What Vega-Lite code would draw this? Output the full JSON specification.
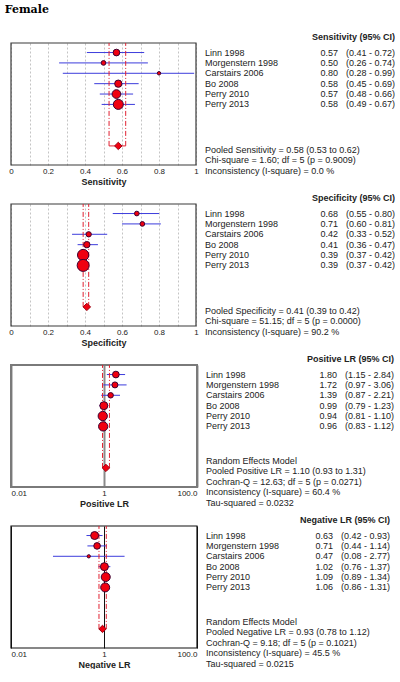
{
  "$schema": "https://vega.github.io/schema/vega-lite/v6.json",
  "title": {"text": "Female", "anchor": "start", "font": "DejaVu Serif", "fontSize": 11, "fontWeight": "bold", "color": "#000000", "offset": 18, "dx": -4},
  "padding": {"left": 4, "top": 4, "right": 0, "bottom": 0},
  "spacing": 8,
  "datasets": {
    "studies": [
      {"measure": "Sensitivity", "study": "Linn 1998", "order": 0, "est": 0.57, "lo": 0.41, "hi": 0.72, "weight": 45},
      {"measure": "Sensitivity", "study": "Morgenstern 1998", "order": 1, "est": 0.50, "lo": 0.26, "hi": 0.74, "weight": 22},
      {"measure": "Sensitivity", "study": "Carstairs 2006", "order": 2, "est": 0.80, "lo": 0.28, "hi": 0.99, "weight": 12},
      {"measure": "Sensitivity", "study": "Bo 2008", "order": 3, "est": 0.58, "lo": 0.45, "hi": 0.69, "weight": 53},
      {"measure": "Sensitivity", "study": "Perry 2010", "order": 4, "est": 0.57, "lo": 0.48, "hi": 0.66, "weight": 76},
      {"measure": "Sensitivity", "study": "Perry 2013", "order": 5, "est": 0.58, "lo": 0.49, "hi": 0.67, "weight": 100},
      {"measure": "Specificity", "study": "Linn 1998", "order": 0, "est": 0.68, "lo": 0.55, "hi": 0.80, "weight": 22},
      {"measure": "Specificity", "study": "Morgenstern 1998", "order": 1, "est": 0.71, "lo": 0.60, "hi": 0.81, "weight": 22},
      {"measure": "Specificity", "study": "Carstairs 2006", "order": 2, "est": 0.42, "lo": 0.33, "hi": 0.52, "weight": 28},
      {"measure": "Specificity", "study": "Bo 2008", "order": 3, "est": 0.41, "lo": 0.36, "hi": 0.47, "weight": 40},
      {"measure": "Specificity", "study": "Perry 2010", "order": 4, "est": 0.39, "lo": 0.37, "hi": 0.42, "weight": 128},
      {"measure": "Specificity", "study": "Perry 2013", "order": 5, "est": 0.39, "lo": 0.37, "hi": 0.42, "weight": 144},
      {"measure": "Positive LR", "study": "Linn 1998", "order": 0, "est": 1.80, "lo": 1.15, "hi": 2.84, "weight": 45},
      {"measure": "Positive LR", "study": "Morgenstern 1998", "order": 1, "est": 1.72, "lo": 0.97, "hi": 3.06, "weight": 36},
      {"measure": "Positive LR", "study": "Carstairs 2006", "order": 2, "est": 1.39, "lo": 0.87, "hi": 2.21, "weight": 30},
      {"measure": "Positive LR", "study": "Bo 2008", "order": 3, "est": 0.99, "lo": 0.79, "hi": 1.23, "weight": 64},
      {"measure": "Positive LR", "study": "Perry 2010", "order": 4, "est": 0.94, "lo": 0.81, "hi": 1.10, "weight": 86},
      {"measure": "Positive LR", "study": "Perry 2013", "order": 5, "est": 0.96, "lo": 0.83, "hi": 1.12, "weight": 86},
      {"measure": "Negative LR", "study": "Linn 1998", "order": 0, "est": 0.63, "lo": 0.42, "hi": 0.93, "weight": 64},
      {"measure": "Negative LR", "study": "Morgenstern 1998", "order": 1, "est": 0.71, "lo": 0.44, "hi": 1.14, "weight": 44},
      {"measure": "Negative LR", "study": "Carstairs 2006", "order": 2, "est": 0.47, "lo": 0.08, "hi": 2.77, "weight": 11},
      {"measure": "Negative LR", "study": "Bo 2008", "order": 3, "est": 1.02, "lo": 0.76, "hi": 1.37, "weight": 64},
      {"measure": "Negative LR", "study": "Perry 2010", "order": 4, "est": 1.09, "lo": 0.89, "hi": 1.34, "weight": 81},
      {"measure": "Negative LR", "study": "Perry 2013", "order": 5, "est": 1.06, "lo": 0.86, "hi": 1.31, "weight": 81}
    ],
    "pooled": [
      {"measure": "Sensitivity", "est": 0.58, "lo": 0.53, "hi": 0.62, "row": 9},
      {"measure": "Specificity", "est": 0.41, "lo": 0.39, "hi": 0.42, "row": 9},
      {"measure": "Positive LR", "est": 1.10, "lo": 0.93, "hi": 1.31, "row": 9},
      {"measure": "Negative LR", "est": 0.93, "lo": 0.78, "hi": 1.12, "row": 9}
    ],
    "headers": [
      {"measure": "Sensitivity", "line": -1, "text": "Sensitivity (95% CI)"},
      {"measure": "Specificity", "line": -1, "text": "Specificity (95% CI)"},
      {"measure": "Positive LR", "line": -1, "text": "Positive LR (95% CI)"},
      {"measure": "Negative LR", "line": -1, "text": "Negative LR (95% CI)"}
    ],
    "notes": [
      {"measure": "Sensitivity", "line": 9, "text": "Pooled Sensitivity = 0.58 (0.53 to 0.62)"},
      {"measure": "Sensitivity", "line": 10, "text": "Chi-square = 1.60; df =  5 (p = 0.9009)"},
      {"measure": "Sensitivity", "line": 11, "text": "Inconsistency (I-square) = 0.0 %"},
      {"measure": "Specificity", "line": 9, "text": "Pooled Specificity = 0.41 (0.39 to 0.42)"},
      {"measure": "Specificity", "line": 10, "text": "Chi-square = 51.15; df =  5 (p = 0.0000)"},
      {"measure": "Specificity", "line": 11, "text": "Inconsistency (I-square) = 90.2 %"},
      {"measure": "Positive LR", "line": 8, "text": "Random Effects Model"},
      {"measure": "Positive LR", "line": 9, "text": "Pooled Positive LR = 1.10 (0.93 to 1.31)"},
      {"measure": "Positive LR", "line": 10, "text": "Cochran-Q = 12.63; df =  5 (p = 0.0271)"},
      {"measure": "Positive LR", "line": 11, "text": "Inconsistency (I-square) = 60.4 %"},
      {"measure": "Positive LR", "line": 12, "text": "Tau-squared = 0.0232"},
      {"measure": "Negative LR", "line": 8, "text": "Random Effects Model"},
      {"measure": "Negative LR", "line": 9, "text": "Pooled Negative LR = 0.93 (0.78 to 1.12)"},
      {"measure": "Negative LR", "line": 10, "text": "Cochran-Q = 9.18; df =  5 (p = 0.1021)"},
      {"measure": "Negative LR", "line": 11, "text": "Inconsistency (I-square) = 45.5 %"},
      {"measure": "Negative LR", "line": 12, "text": "Tau-squared = 0.0215"}
    ]
  },
  "vconcat": [
    {
      "bounds": "flush", "spacing": 9,
      "hconcat": [
        {
          "width": 185, "height": 122,
          "layer": [
            {
              "data": {"name": "pooled"}, "transform": [{"filter": "datum.measure == 'Sensitivity'"}],
              "mark": {"type": "rect", "filled": false, "stroke": "#3a3a3a", "strokeWidth": 1.2},
              "encoding": {"x": {"value": 0}, "x2": {"value": "width"}, "y": {"value": 0}, "y2": {"value": "height"}}
            },
            {
              "data": {"name": "studies"}, "transform": [{"filter": "datum.measure == 'Sensitivity'"}],
              "mark": {"type": "rule", "color": "#3c3cdc", "strokeWidth": 1},
              "encoding": {
                "x": {"field": "lo", "type": "quantitative", "scale": {"domain": [0, 1], "nice": false, "zero": false},
                  "axis": {"values": [0, 0.1, 0.2, 0.3, 0.4, 0.5, 0.6, 0.7, 0.8, 0.9, 1], "format": "~g", "labelExpr": "round(datum.value * 10) % 2 == 0 ? datum.label : ''", "grid": true, "gridColor": "#c4c4c4", "gridDash": [2, 2], "domain": false, "ticks": false, "labelPadding": 2, "labelFontSize": 8, "labelColor": "#222222", "labelOverlap": false, "labelFlush": false, "title": "Sensitivity", "titleFontSize": 9, "titleFontWeight": "bold", "titleColor": "#222222", "titlePadding": 2}},
                "x2": {"field": "hi"},
                "y": {"field": "order", "type": "quantitative", "scale": {"domain": [-0.92, 10.84], "reverse": true, "nice": false, "zero": false}, "axis": null}
              }
            },
            {
              "data": {"name": "pooled"}, "transform": [{"filter": "datum.measure == 'Sensitivity'"}],
              "mark": {"type": "rule", "color": "#e02030", "strokeWidth": 1, "strokeDash": [5, 2, 1, 2]},
              "encoding": {
                "x": {"field": "lo", "type": "quantitative",
                  "axis": {"values": [0, 0.1, 0.2, 0.3, 0.4, 0.5, 0.6, 0.7, 0.8, 0.9, 1], "format": "~g", "labelExpr": "round(datum.value * 10) % 2 == 0 ? datum.label : ''", "grid": true, "gridColor": "#c4c4c4", "gridDash": [2, 2], "domain": false, "ticks": false, "labelPadding": 2, "labelFontSize": 8, "labelColor": "#222222", "labelOverlap": false, "labelFlush": false, "title": "Sensitivity", "titleFontSize": 9, "titleFontWeight": "bold", "titleColor": "#222222", "titlePadding": 2}},
                "y": {"field": "row", "type": "quantitative", "axis": null},
                "y2": {"value": 0}
              }
            },
            {
              "data": {"name": "pooled"}, "transform": [{"filter": "datum.measure == 'Sensitivity'"}],
              "mark": {"type": "rule", "color": "#e02030", "strokeWidth": 1, "strokeDash": [5, 2, 1, 2]},
              "encoding": {
                "x": {"field": "hi", "type": "quantitative",
                  "axis": {"values": [0, 0.1, 0.2, 0.3, 0.4, 0.5, 0.6, 0.7, 0.8, 0.9, 1], "format": "~g", "labelExpr": "round(datum.value * 10) % 2 == 0 ? datum.label : ''", "grid": true, "gridColor": "#c4c4c4", "gridDash": [2, 2], "domain": false, "ticks": false, "labelPadding": 2, "labelFontSize": 8, "labelColor": "#222222", "labelOverlap": false, "labelFlush": false, "title": "Sensitivity", "titleFontSize": 9, "titleFontWeight": "bold", "titleColor": "#222222", "titlePadding": 2}},
                "y": {"field": "row", "type": "quantitative", "axis": null},
                "y2": {"value": 0}
              }
            },
            {
              "data": {"name": "pooled"}, "transform": [{"filter": "datum.measure == 'Sensitivity'"}],
              "mark": {"type": "rule", "color": "#e02030", "strokeWidth": 1},
              "encoding": {
                "x": {"field": "lo", "type": "quantitative",
                  "axis": {"values": [0, 0.1, 0.2, 0.3, 0.4, 0.5, 0.6, 0.7, 0.8, 0.9, 1], "format": "~g", "labelExpr": "round(datum.value * 10) % 2 == 0 ? datum.label : ''", "grid": true, "gridColor": "#c4c4c4", "gridDash": [2, 2], "domain": false, "ticks": false, "labelPadding": 2, "labelFontSize": 8, "labelColor": "#222222", "labelOverlap": false, "labelFlush": false, "title": "Sensitivity", "titleFontSize": 9, "titleFontWeight": "bold", "titleColor": "#222222", "titlePadding": 2}},
                "x2": {"field": "hi"},
                "y": {"field": "row", "type": "quantitative", "axis": null}
              }
            },
            {
              "data": {"name": "studies"}, "transform": [{"filter": "datum.measure == 'Sensitivity'"}],
              "mark": {"type": "point", "shape": "circle", "filled": true, "fill": "#f00010", "stroke": "#3d0030", "strokeWidth": 1, "opacity": 1},
              "encoding": {
                "x": {"field": "est", "type": "quantitative",
                  "axis": {"values": [0, 0.1, 0.2, 0.3, 0.4, 0.5, 0.6, 0.7, 0.8, 0.9, 1], "format": "~g", "labelExpr": "round(datum.value * 10) % 2 == 0 ? datum.label : ''", "grid": true, "gridColor": "#c4c4c4", "gridDash": [2, 2], "domain": false, "ticks": false, "labelPadding": 2, "labelFontSize": 8, "labelColor": "#222222", "labelOverlap": false, "labelFlush": false, "title": "Sensitivity", "titleFontSize": 9, "titleFontWeight": "bold", "titleColor": "#222222", "titlePadding": 2}},
                "y": {"field": "order", "type": "quantitative", "axis": null},
                "size": {"field": "weight", "type": "quantitative", "scale": {"type": "linear", "domain": [0, 150], "range": [0, 150]}, "legend": null}
              }
            },
            {
              "data": {"name": "pooled"}, "transform": [{"filter": "datum.measure == 'Sensitivity'"}],
              "mark": {"type": "point", "shape": "diamond", "filled": true, "fill": "#f00010", "stroke": "#9a0010", "strokeWidth": 1, "size": 55, "opacity": 1},
              "encoding": {
                "x": {"field": "est", "type": "quantitative",
                  "axis": {"values": [0, 0.1, 0.2, 0.3, 0.4, 0.5, 0.6, 0.7, 0.8, 0.9, 1], "format": "~g", "labelExpr": "round(datum.value * 10) % 2 == 0 ? datum.label : ''", "grid": true, "gridColor": "#c4c4c4", "gridDash": [2, 2], "domain": false, "ticks": false, "labelPadding": 2, "labelFontSize": 8, "labelColor": "#222222", "labelOverlap": false, "labelFlush": false, "title": "Sensitivity", "titleFontSize": 9, "titleFontWeight": "bold", "titleColor": "#222222", "titlePadding": 2}},
                "y": {"field": "row", "type": "quantitative", "axis": null}
              }
            }
          ]
        },
        {
          "width": 100, "height": 122,
          "layer": [
            {
              "data": {"name": "studies"}, "transform": [{"filter": "datum.measure == 'Sensitivity'"}],
              "mark": {"type": "text", "align": "left", "baseline": "middle", "fontSize": 9, "color": "#222222"},
              "encoding": {
                "x": {"value": 0},
                "y": {"field": "order", "type": "quantitative", "scale": {"domain": [-0.92, 10.84], "reverse": true, "nice": false, "zero": false}, "axis": null},
                "text": {"field": "study", "type": "nominal"}
              }
            },
            {
              "data": {"name": "notes"}, "transform": [{"filter": "datum.measure == 'Sensitivity'"}],
              "mark": {"type": "text", "align": "left", "baseline": "middle", "fontSize": 9, "color": "#222222", "dy": 4},
              "encoding": {
                "x": {"value": 0},
                "y": {"field": "line", "type": "quantitative", "axis": null},
                "text": {"field": "text", "type": "nominal"}
              }
            }
          ]
        },
        {
          "width": 24, "height": 122,
          "data": {"name": "studies"}, "transform": [{"filter": "datum.measure == 'Sensitivity'"}],
          "mark": {"type": "text", "align": "right", "baseline": "middle", "fontSize": 9, "color": "#222222"},
          "encoding": {
            "x": {"value": "width"},
            "y": {"field": "order", "type": "quantitative", "scale": {"domain": [-0.92, 10.84], "reverse": true, "nice": false, "zero": false}, "axis": null},
            "text": {"field": "est", "type": "quantitative", "format": ".2f"}
          }
        },
        {
          "width": 48, "height": 122,
          "layer": [
            {
              "data": {"name": "studies"}, "transform": [{"filter": "datum.measure == 'Sensitivity'"}, {"calculate": "'(' + format(datum.lo, '.2f') + ' - ' + format(datum.hi, '.2f') + ')'", "as": "ci"}],
              "mark": {"type": "text", "align": "right", "baseline": "middle", "fontSize": 9, "color": "#222222"},
              "encoding": {
                "x": {"value": "width"},
                "y": {"field": "order", "type": "quantitative", "scale": {"domain": [-0.92, 10.84], "reverse": true, "nice": false, "zero": false}, "axis": null},
                "text": {"field": "ci", "type": "nominal"}
              }
            },
            {
              "data": {"name": "headers"}, "transform": [{"filter": "datum.measure == 'Sensitivity'"}],
              "mark": {"type": "text", "align": "right", "baseline": "middle", "fontSize": 9, "fontWeight": "bold", "color": "#222222", "dy": -5},
              "encoding": {
                "x": {"value": "width"},
                "y": {"field": "line", "type": "quantitative", "axis": null},
                "text": {"field": "text", "type": "nominal"}
              }
            }
          ]
        }
      ]
    },
    {
      "bounds": "flush", "spacing": 9,
      "hconcat": [
        {
          "width": 185, "height": 122,
          "layer": [
            {
              "data": {"name": "pooled"}, "transform": [{"filter": "datum.measure == 'Specificity'"}],
              "mark": {"type": "rect", "filled": false, "stroke": "#3a3a3a", "strokeWidth": 1.2},
              "encoding": {"x": {"value": 0}, "x2": {"value": "width"}, "y": {"value": 0}, "y2": {"value": "height"}}
            },
            {
              "data": {"name": "studies"}, "transform": [{"filter": "datum.measure == 'Specificity'"}],
              "mark": {"type": "rule", "color": "#3c3cdc", "strokeWidth": 1},
              "encoding": {
                "x": {"field": "lo", "type": "quantitative", "scale": {"domain": [0, 1], "nice": false, "zero": false},
                  "axis": {"values": [0, 0.1, 0.2, 0.3, 0.4, 0.5, 0.6, 0.7, 0.8, 0.9, 1], "format": "~g", "labelExpr": "round(datum.value * 10) % 2 == 0 ? datum.label : ''", "grid": true, "gridColor": "#c4c4c4", "gridDash": [2, 2], "domain": false, "ticks": false, "labelPadding": 2, "labelFontSize": 8, "labelColor": "#222222", "labelOverlap": false, "labelFlush": false, "title": "Specificity", "titleFontSize": 9, "titleFontWeight": "bold", "titleColor": "#222222", "titlePadding": 2}},
                "x2": {"field": "hi"},
                "y": {"field": "order", "type": "quantitative", "scale": {"domain": [-0.92, 10.84], "reverse": true, "nice": false, "zero": false}, "axis": null}
              }
            },
            {
              "data": {"name": "pooled"}, "transform": [{"filter": "datum.measure == 'Specificity'"}],
              "mark": {"type": "rule", "color": "#e02030", "strokeWidth": 1, "strokeDash": [5, 2, 1, 2]},
              "encoding": {
                "x": {"field": "lo", "type": "quantitative",
                  "axis": {"values": [0, 0.1, 0.2, 0.3, 0.4, 0.5, 0.6, 0.7, 0.8, 0.9, 1], "format": "~g", "labelExpr": "round(datum.value * 10) % 2 == 0 ? datum.label : ''", "grid": true, "gridColor": "#c4c4c4", "gridDash": [2, 2], "domain": false, "ticks": false, "labelPadding": 2, "labelFontSize": 8, "labelColor": "#222222", "labelOverlap": false, "labelFlush": false, "title": "Specificity", "titleFontSize": 9, "titleFontWeight": "bold", "titleColor": "#222222", "titlePadding": 2}},
                "y": {"field": "row", "type": "quantitative", "axis": null},
                "y2": {"value": 0}
              }
            },
            {
              "data": {"name": "pooled"}, "transform": [{"filter": "datum.measure == 'Specificity'"}],
              "mark": {"type": "rule", "color": "#e02030", "strokeWidth": 1, "strokeDash": [5, 2, 1, 2]},
              "encoding": {
                "x": {"field": "hi", "type": "quantitative",
                  "axis": {"values": [0, 0.1, 0.2, 0.3, 0.4, 0.5, 0.6, 0.7, 0.8, 0.9, 1], "format": "~g", "labelExpr": "round(datum.value * 10) % 2 == 0 ? datum.label : ''", "grid": true, "gridColor": "#c4c4c4", "gridDash": [2, 2], "domain": false, "ticks": false, "labelPadding": 2, "labelFontSize": 8, "labelColor": "#222222", "labelOverlap": false, "labelFlush": false, "title": "Specificity", "titleFontSize": 9, "titleFontWeight": "bold", "titleColor": "#222222", "titlePadding": 2}},
                "y": {"field": "row", "type": "quantitative", "axis": null},
                "y2": {"value": 0}
              }
            },
            {
              "data": {"name": "pooled"}, "transform": [{"filter": "datum.measure == 'Specificity'"}],
              "mark": {"type": "rule", "color": "#e02030", "strokeWidth": 1},
              "encoding": {
                "x": {"field": "lo", "type": "quantitative",
                  "axis": {"values": [0, 0.1, 0.2, 0.3, 0.4, 0.5, 0.6, 0.7, 0.8, 0.9, 1], "format": "~g", "labelExpr": "round(datum.value * 10) % 2 == 0 ? datum.label : ''", "grid": true, "gridColor": "#c4c4c4", "gridDash": [2, 2], "domain": false, "ticks": false, "labelPadding": 2, "labelFontSize": 8, "labelColor": "#222222", "labelOverlap": false, "labelFlush": false, "title": "Specificity", "titleFontSize": 9, "titleFontWeight": "bold", "titleColor": "#222222", "titlePadding": 2}},
                "x2": {"field": "hi"},
                "y": {"field": "row", "type": "quantitative", "axis": null}
              }
            },
            {
              "data": {"name": "studies"}, "transform": [{"filter": "datum.measure == 'Specificity'"}],
              "mark": {"type": "point", "shape": "circle", "filled": true, "fill": "#f00010", "stroke": "#3d0030", "strokeWidth": 1, "opacity": 1},
              "encoding": {
                "x": {"field": "est", "type": "quantitative",
                  "axis": {"values": [0, 0.1, 0.2, 0.3, 0.4, 0.5, 0.6, 0.7, 0.8, 0.9, 1], "format": "~g", "labelExpr": "round(datum.value * 10) % 2 == 0 ? datum.label : ''", "grid": true, "gridColor": "#c4c4c4", "gridDash": [2, 2], "domain": false, "ticks": false, "labelPadding": 2, "labelFontSize": 8, "labelColor": "#222222", "labelOverlap": false, "labelFlush": false, "title": "Specificity", "titleFontSize": 9, "titleFontWeight": "bold", "titleColor": "#222222", "titlePadding": 2}},
                "y": {"field": "order", "type": "quantitative", "axis": null},
                "size": {"field": "weight", "type": "quantitative", "scale": {"type": "linear", "domain": [0, 150], "range": [0, 150]}, "legend": null}
              }
            },
            {
              "data": {"name": "pooled"}, "transform": [{"filter": "datum.measure == 'Specificity'"}],
              "mark": {"type": "point", "shape": "diamond", "filled": true, "fill": "#f00010", "stroke": "#9a0010", "strokeWidth": 1, "size": 55, "opacity": 1},
              "encoding": {
                "x": {"field": "est", "type": "quantitative",
                  "axis": {"values": [0, 0.1, 0.2, 0.3, 0.4, 0.5, 0.6, 0.7, 0.8, 0.9, 1], "format": "~g", "labelExpr": "round(datum.value * 10) % 2 == 0 ? datum.label : ''", "grid": true, "gridColor": "#c4c4c4", "gridDash": [2, 2], "domain": false, "ticks": false, "labelPadding": 2, "labelFontSize": 8, "labelColor": "#222222", "labelOverlap": false, "labelFlush": false, "title": "Specificity", "titleFontSize": 9, "titleFontWeight": "bold", "titleColor": "#222222", "titlePadding": 2}},
                "y": {"field": "row", "type": "quantitative", "axis": null}
              }
            }
          ]
        },
        {
          "width": 100, "height": 122,
          "layer": [
            {
              "data": {"name": "studies"}, "transform": [{"filter": "datum.measure == 'Specificity'"}],
              "mark": {"type": "text", "align": "left", "baseline": "middle", "fontSize": 9, "color": "#222222"},
              "encoding": {
                "x": {"value": 0},
                "y": {"field": "order", "type": "quantitative", "scale": {"domain": [-0.92, 10.84], "reverse": true, "nice": false, "zero": false}, "axis": null},
                "text": {"field": "study", "type": "nominal"}
              }
            },
            {
              "data": {"name": "notes"}, "transform": [{"filter": "datum.measure == 'Specificity'"}],
              "mark": {"type": "text", "align": "left", "baseline": "middle", "fontSize": 9, "color": "#222222", "dy": 4},
              "encoding": {
                "x": {"value": 0},
                "y": {"field": "line", "type": "quantitative", "axis": null},
                "text": {"field": "text", "type": "nominal"}
              }
            }
          ]
        },
        {
          "width": 24, "height": 122,
          "data": {"name": "studies"}, "transform": [{"filter": "datum.measure == 'Specificity'"}],
          "mark": {"type": "text", "align": "right", "baseline": "middle", "fontSize": 9, "color": "#222222"},
          "encoding": {
            "x": {"value": "width"},
            "y": {"field": "order", "type": "quantitative", "scale": {"domain": [-0.92, 10.84], "reverse": true, "nice": false, "zero": false}, "axis": null},
            "text": {"field": "est", "type": "quantitative", "format": ".2f"}
          }
        },
        {
          "width": 48, "height": 122,
          "layer": [
            {
              "data": {"name": "studies"}, "transform": [{"filter": "datum.measure == 'Specificity'"}, {"calculate": "'(' + format(datum.lo, '.2f') + ' - ' + format(datum.hi, '.2f') + ')'", "as": "ci"}],
              "mark": {"type": "text", "align": "right", "baseline": "middle", "fontSize": 9, "color": "#222222"},
              "encoding": {
                "x": {"value": "width"},
                "y": {"field": "order", "type": "quantitative", "scale": {"domain": [-0.92, 10.84], "reverse": true, "nice": false, "zero": false}, "axis": null},
                "text": {"field": "ci", "type": "nominal"}
              }
            },
            {
              "data": {"name": "headers"}, "transform": [{"filter": "datum.measure == 'Specificity'"}],
              "mark": {"type": "text", "align": "right", "baseline": "middle", "fontSize": 9, "fontWeight": "bold", "color": "#222222", "dy": -5},
              "encoding": {
                "x": {"value": "width"},
                "y": {"field": "line", "type": "quantitative", "axis": null},
                "text": {"field": "text", "type": "nominal"}
              }
            }
          ]
        }
      ]
    },
    {
      "bounds": "flush", "spacing": 9,
      "hconcat": [
        {
          "width": 186, "height": 122,
          "layer": [
            {
              "data": {"name": "pooled"}, "transform": [{"filter": "datum.measure == 'Positive LR'"}],
              "mark": {"type": "rect", "filled": false, "stroke": "#7a7a7a", "strokeWidth": 2},
              "encoding": {"x": {"value": 0}, "x2": {"value": "width"}, "y": {"value": 0}, "y2": {"value": "height"}}
            },
            {
              "data": {"name": "studies"}, "transform": [{"filter": "datum.measure == 'Positive LR'"}],
              "mark": {"type": "rule", "color": "#3c3cdc", "strokeWidth": 1},
              "encoding": {
                "x": {"field": "lo", "type": "quantitative", "scale": {"type": "log", "domain": [0.01, 100], "nice": false},
                  "axis": {"values": [0.01, 1, 100], "format": "~g", "labelExpr": "datum.value == 100 ? '100.0' : datum.label", "grid": true, "gridColor": "#8a8a8a", "gridWidth": 2, "domain": false, "ticks": false, "labelPadding": 2, "labelFontSize": 8, "labelColor": "#222222", "labelOverlap": false, "labelFlush": true, "title": "Positive LR", "titleFontSize": 9, "titleFontWeight": "bold", "titleColor": "#222222", "titlePadding": 2}},
                "x2": {"field": "hi"},
                "y": {"field": "order", "type": "quantitative", "scale": {"domain": [-0.92, 10.84], "reverse": true, "nice": false, "zero": false}, "axis": null}
              }
            },
            {
              "data": {"name": "pooled"}, "transform": [{"filter": "datum.measure == 'Positive LR'"}],
              "mark": {"type": "rule", "color": "#e02030", "strokeWidth": 1, "strokeDash": [5, 2, 1, 2]},
              "encoding": {
                "x": {"field": "lo", "type": "quantitative",
                  "axis": {"values": [0.01, 1, 100], "format": "~g", "labelExpr": "datum.value == 100 ? '100.0' : datum.label", "grid": true, "gridColor": "#8a8a8a", "gridWidth": 2, "domain": false, "ticks": false, "labelPadding": 2, "labelFontSize": 8, "labelColor": "#222222", "labelOverlap": false, "labelFlush": true, "title": "Positive LR", "titleFontSize": 9, "titleFontWeight": "bold", "titleColor": "#222222", "titlePadding": 2}},
                "y": {"field": "row", "type": "quantitative", "axis": null},
                "y2": {"value": 0}
              }
            },
            {
              "data": {"name": "pooled"}, "transform": [{"filter": "datum.measure == 'Positive LR'"}],
              "mark": {"type": "rule", "color": "#e02030", "strokeWidth": 1, "strokeDash": [5, 2, 1, 2]},
              "encoding": {
                "x": {"field": "hi", "type": "quantitative",
                  "axis": {"values": [0.01, 1, 100], "format": "~g", "labelExpr": "datum.value == 100 ? '100.0' : datum.label", "grid": true, "gridColor": "#8a8a8a", "gridWidth": 2, "domain": false, "ticks": false, "labelPadding": 2, "labelFontSize": 8, "labelColor": "#222222", "labelOverlap": false, "labelFlush": true, "title": "Positive LR", "titleFontSize": 9, "titleFontWeight": "bold", "titleColor": "#222222", "titlePadding": 2}},
                "y": {"field": "row", "type": "quantitative", "axis": null},
                "y2": {"value": 0}
              }
            },
            {
              "data": {"name": "studies"}, "transform": [{"filter": "datum.measure == 'Positive LR'"}],
              "mark": {"type": "point", "shape": "circle", "filled": true, "fill": "#f00010", "stroke": "#3d0030", "strokeWidth": 1, "opacity": 1},
              "encoding": {
                "x": {"field": "est", "type": "quantitative",
                  "axis": {"values": [0.01, 1, 100], "format": "~g", "labelExpr": "datum.value == 100 ? '100.0' : datum.label", "grid": true, "gridColor": "#8a8a8a", "gridWidth": 2, "domain": false, "ticks": false, "labelPadding": 2, "labelFontSize": 8, "labelColor": "#222222", "labelOverlap": false, "labelFlush": true, "title": "Positive LR", "titleFontSize": 9, "titleFontWeight": "bold", "titleColor": "#222222", "titlePadding": 2}},
                "y": {"field": "order", "type": "quantitative", "axis": null},
                "size": {"field": "weight", "type": "quantitative", "scale": {"type": "linear", "domain": [0, 150], "range": [0, 150]}, "legend": null}
              }
            },
            {
              "data": {"name": "pooled"}, "transform": [{"filter": "datum.measure == 'Positive LR'"}],
              "mark": {"type": "point", "shape": "diamond", "filled": true, "fill": "#f00010", "stroke": "#9a0010", "strokeWidth": 1, "size": 55, "opacity": 1},
              "encoding": {
                "x": {"field": "est", "type": "quantitative",
                  "axis": {"values": [0.01, 1, 100], "format": "~g", "labelExpr": "datum.value == 100 ? '100.0' : datum.label", "grid": true, "gridColor": "#8a8a8a", "gridWidth": 2, "domain": false, "ticks": false, "labelPadding": 2, "labelFontSize": 8, "labelColor": "#222222", "labelOverlap": false, "labelFlush": true, "title": "Positive LR", "titleFontSize": 9, "titleFontWeight": "bold", "titleColor": "#222222", "titlePadding": 2}},
                "y": {"field": "row", "type": "quantitative", "axis": null}
              }
            }
          ]
        },
        {
          "width": 100, "height": 122,
          "layer": [
            {
              "data": {"name": "studies"}, "transform": [{"filter": "datum.measure == 'Positive LR'"}],
              "mark": {"type": "text", "align": "left", "baseline": "middle", "fontSize": 9, "color": "#222222"},
              "encoding": {
                "x": {"value": 0},
                "y": {"field": "order", "type": "quantitative", "scale": {"domain": [-0.92, 10.84], "reverse": true, "nice": false, "zero": false}, "axis": null},
                "text": {"field": "study", "type": "nominal"}
              }
            },
            {
              "data": {"name": "notes"}, "transform": [{"filter": "datum.measure == 'Positive LR'"}],
              "mark": {"type": "text", "align": "left", "baseline": "middle", "fontSize": 9, "color": "#222222", "dy": 3.5},
              "encoding": {
                "x": {"value": 0},
                "y": {"field": "line", "type": "quantitative", "axis": null},
                "text": {"field": "text", "type": "nominal"}
              }
            }
          ]
        },
        {
          "width": 22, "height": 122,
          "data": {"name": "studies"}, "transform": [{"filter": "datum.measure == 'Positive LR'"}],
          "mark": {"type": "text", "align": "right", "baseline": "middle", "fontSize": 9, "color": "#222222"},
          "encoding": {
            "x": {"value": "width"},
            "y": {"field": "order", "type": "quantitative", "scale": {"domain": [-0.92, 10.84], "reverse": true, "nice": false, "zero": false}, "axis": null},
            "text": {"field": "est", "type": "quantitative", "format": ".2f"}
          }
        },
        {
          "width": 48, "height": 122,
          "layer": [
            {
              "data": {"name": "studies"}, "transform": [{"filter": "datum.measure == 'Positive LR'"}, {"calculate": "'(' + format(datum.lo, '.2f') + ' - ' + format(datum.hi, '.2f') + ')'", "as": "ci"}],
              "mark": {"type": "text", "align": "right", "baseline": "middle", "fontSize": 9, "color": "#222222"},
              "encoding": {
                "x": {"value": "width"},
                "y": {"field": "order", "type": "quantitative", "scale": {"domain": [-0.92, 10.84], "reverse": true, "nice": false, "zero": false}, "axis": null},
                "text": {"field": "ci", "type": "nominal"}
              }
            },
            {
              "data": {"name": "headers"}, "transform": [{"filter": "datum.measure == 'Positive LR'"}],
              "mark": {"type": "text", "align": "right", "baseline": "middle", "fontSize": 9, "fontWeight": "bold", "color": "#222222", "dy": -5},
              "encoding": {
                "x": {"value": "width"},
                "y": {"field": "line", "type": "quantitative", "axis": null},
                "text": {"field": "text", "type": "nominal"}
              }
            }
          ]
        }
      ]
    },
    {
      "bounds": "flush", "spacing": 9,
      "hconcat": [
        {
          "width": 186, "height": 122,
          "layer": [
            {
              "data": {"name": "pooled"}, "transform": [{"filter": "datum.measure == 'Negative LR'"}],
              "mark": {"type": "rect", "filled": false, "stroke": "#111111", "strokeWidth": 1.2},
              "encoding": {"x": {"value": 0}, "x2": {"value": "width"}, "y": {"value": 0}, "y2": {"value": "height"}}
            },
            {
              "data": {"name": "studies"}, "transform": [{"filter": "datum.measure == 'Negative LR'"}],
              "mark": {"type": "rule", "color": "#3c3cdc", "strokeWidth": 1},
              "encoding": {
                "x": {"field": "lo", "type": "quantitative", "scale": {"type": "log", "domain": [0.01, 100], "nice": false},
                  "axis": {"values": [0.01, 1, 100], "format": "~g", "labelExpr": "datum.value == 100 ? '100.0' : datum.label", "grid": true, "gridColor": "#111111", "gridWidth": 1, "domain": false, "ticks": false, "labelPadding": 2, "labelFontSize": 8, "labelColor": "#222222", "labelOverlap": false, "labelFlush": true, "title": "Negative LR", "titleFontSize": 9, "titleFontWeight": "bold", "titleColor": "#222222", "titlePadding": 2}},
                "x2": {"field": "hi"},
                "y": {"field": "order", "type": "quantitative", "scale": {"domain": [-0.92, 10.84], "reverse": true, "nice": false, "zero": false}, "axis": null}
              }
            },
            {
              "data": {"name": "pooled"}, "transform": [{"filter": "datum.measure == 'Negative LR'"}],
              "mark": {"type": "rule", "color": "#e02030", "strokeWidth": 1, "strokeDash": [5, 2, 1, 2]},
              "encoding": {
                "x": {"field": "lo", "type": "quantitative",
                  "axis": {"values": [0.01, 1, 100], "format": "~g", "labelExpr": "datum.value == 100 ? '100.0' : datum.label", "grid": true, "gridColor": "#111111", "gridWidth": 1, "domain": false, "ticks": false, "labelPadding": 2, "labelFontSize": 8, "labelColor": "#222222", "labelOverlap": false, "labelFlush": true, "title": "Negative LR", "titleFontSize": 9, "titleFontWeight": "bold", "titleColor": "#222222", "titlePadding": 2}},
                "y": {"field": "row", "type": "quantitative", "axis": null},
                "y2": {"value": 0}
              }
            },
            {
              "data": {"name": "pooled"}, "transform": [{"filter": "datum.measure == 'Negative LR'"}],
              "mark": {"type": "rule", "color": "#e02030", "strokeWidth": 1, "strokeDash": [5, 2, 1, 2]},
              "encoding": {
                "x": {"field": "hi", "type": "quantitative",
                  "axis": {"values": [0.01, 1, 100], "format": "~g", "labelExpr": "datum.value == 100 ? '100.0' : datum.label", "grid": true, "gridColor": "#111111", "gridWidth": 1, "domain": false, "ticks": false, "labelPadding": 2, "labelFontSize": 8, "labelColor": "#222222", "labelOverlap": false, "labelFlush": true, "title": "Negative LR", "titleFontSize": 9, "titleFontWeight": "bold", "titleColor": "#222222", "titlePadding": 2}},
                "y": {"field": "row", "type": "quantitative", "axis": null},
                "y2": {"value": 0}
              }
            },
            {
              "data": {"name": "studies"}, "transform": [{"filter": "datum.measure == 'Negative LR'"}],
              "mark": {"type": "point", "shape": "circle", "filled": true, "fill": "#f00010", "stroke": "#3d0030", "strokeWidth": 1, "opacity": 1},
              "encoding": {
                "x": {"field": "est", "type": "quantitative",
                  "axis": {"values": [0.01, 1, 100], "format": "~g", "labelExpr": "datum.value == 100 ? '100.0' : datum.label", "grid": true, "gridColor": "#111111", "gridWidth": 1, "domain": false, "ticks": false, "labelPadding": 2, "labelFontSize": 8, "labelColor": "#222222", "labelOverlap": false, "labelFlush": true, "title": "Negative LR", "titleFontSize": 9, "titleFontWeight": "bold", "titleColor": "#222222", "titlePadding": 2}},
                "y": {"field": "order", "type": "quantitative", "axis": null},
                "size": {"field": "weight", "type": "quantitative", "scale": {"type": "linear", "domain": [0, 150], "range": [0, 150]}, "legend": null}
              }
            },
            {
              "data": {"name": "pooled"}, "transform": [{"filter": "datum.measure == 'Negative LR'"}],
              "mark": {"type": "point", "shape": "diamond", "filled": true, "fill": "#f00010", "stroke": "#9a0010", "strokeWidth": 1, "size": 55, "opacity": 1},
              "encoding": {
                "x": {"field": "est", "type": "quantitative",
                  "axis": {"values": [0.01, 1, 100], "format": "~g", "labelExpr": "datum.value == 100 ? '100.0' : datum.label", "grid": true, "gridColor": "#111111", "gridWidth": 1, "domain": false, "ticks": false, "labelPadding": 2, "labelFontSize": 8, "labelColor": "#222222", "labelOverlap": false, "labelFlush": true, "title": "Negative LR", "titleFontSize": 9, "titleFontWeight": "bold", "titleColor": "#222222", "titlePadding": 2}},
                "y": {"field": "row", "type": "quantitative", "axis": null}
              }
            }
          ]
        },
        {
          "width": 100, "height": 122,
          "layer": [
            {
              "data": {"name": "studies"}, "transform": [{"filter": "datum.measure == 'Negative LR'"}],
              "mark": {"type": "text", "align": "left", "baseline": "middle", "fontSize": 9, "color": "#222222"},
              "encoding": {
                "x": {"value": 0},
                "y": {"field": "order", "type": "quantitative", "scale": {"domain": [-0.92, 10.84], "reverse": true, "nice": false, "zero": false}, "axis": null},
                "text": {"field": "study", "type": "nominal"}
              }
            },
            {
              "data": {"name": "notes"}, "transform": [{"filter": "datum.measure == 'Negative LR'"}],
              "mark": {"type": "text", "align": "left", "baseline": "middle", "fontSize": 9, "color": "#222222", "dy": 3.5},
              "encoding": {
                "x": {"value": 0},
                "y": {"field": "line", "type": "quantitative", "axis": null},
                "text": {"field": "text", "type": "nominal"}
              }
            }
          ]
        },
        {
          "width": 18, "height": 122,
          "data": {"name": "studies"}, "transform": [{"filter": "datum.measure == 'Negative LR'"}],
          "mark": {"type": "text", "align": "right", "baseline": "middle", "fontSize": 9, "color": "#222222"},
          "encoding": {
            "x": {"value": "width"},
            "y": {"field": "order", "type": "quantitative", "scale": {"domain": [-0.92, 10.84], "reverse": true, "nice": false, "zero": false}, "axis": null},
            "text": {"field": "est", "type": "quantitative", "format": ".2f"}
          }
        },
        {
          "width": 48, "height": 122,
          "layer": [
            {
              "data": {"name": "studies"}, "transform": [{"filter": "datum.measure == 'Negative LR'"}, {"calculate": "'(' + format(datum.lo, '.2f') + ' - ' + format(datum.hi, '.2f') + ')'", "as": "ci"}],
              "mark": {"type": "text", "align": "right", "baseline": "middle", "fontSize": 9, "color": "#222222"},
              "encoding": {
                "x": {"value": "width"},
                "y": {"field": "order", "type": "quantitative", "scale": {"domain": [-0.92, 10.84], "reverse": true, "nice": false, "zero": false}, "axis": null},
                "text": {"field": "ci", "type": "nominal"}
              }
            },
            {
              "data": {"name": "headers"}, "transform": [{"filter": "datum.measure == 'Negative LR'"}],
              "mark": {"type": "text", "align": "right", "baseline": "middle", "fontSize": 9, "fontWeight": "bold", "color": "#222222", "dy": -5},
              "encoding": {
                "x": {"value": "width"},
                "y": {"field": "line", "type": "quantitative", "axis": null},
                "text": {"field": "text", "type": "nominal"}
              }
            }
          ]
        }
      ]
    }
  ],
  "config": {
    "view": {"stroke": null},
    "font": "Liberation Sans",
    "text": {"font": "Liberation Sans"},
    "axis": {"labelFont": "Liberation Sans", "titleFont": "Liberation Sans"}
  }
}
